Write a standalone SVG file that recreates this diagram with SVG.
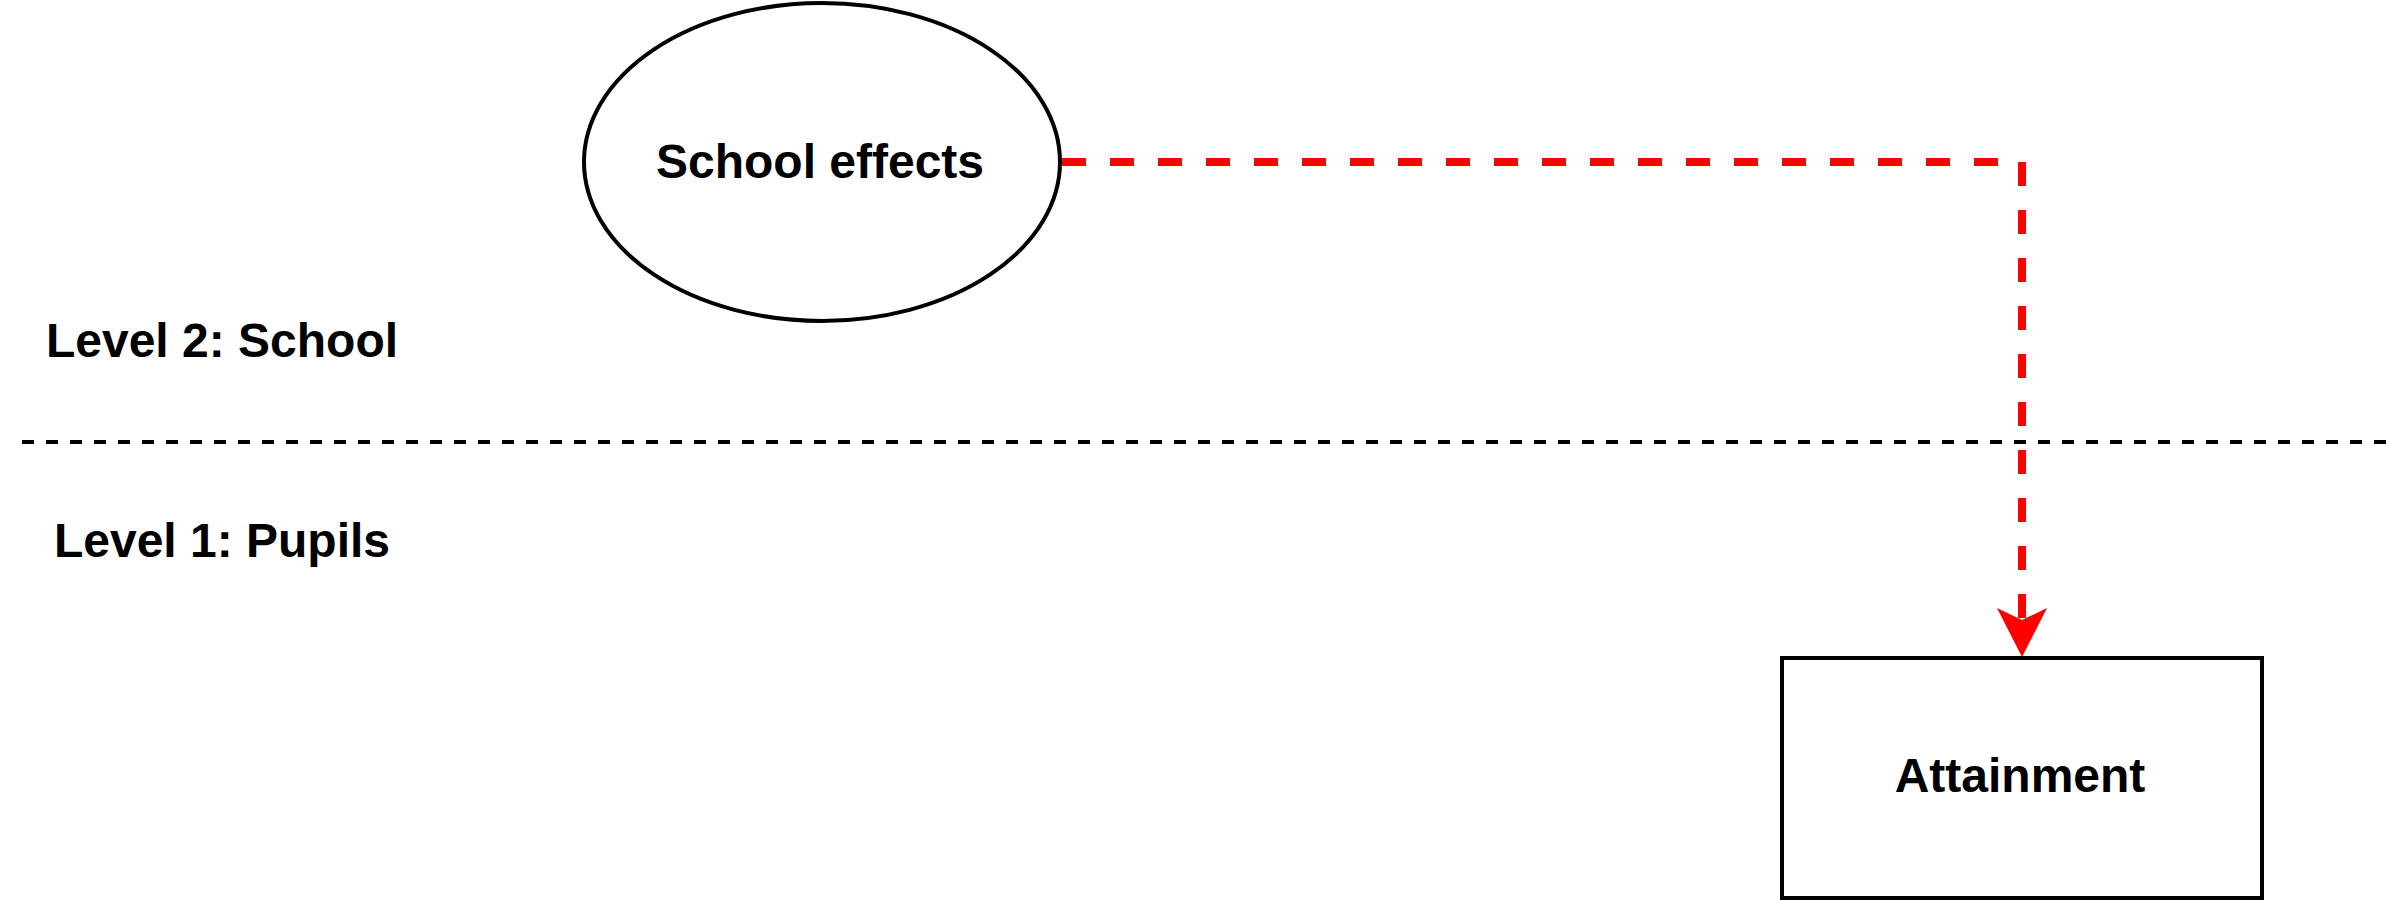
<svg xmlns="http://www.w3.org/2000/svg" width="2388" height="900" viewBox="0 0 2388 900">
  <style>
    .lbl { font-family: "Liberation Sans", Arial, sans-serif; font-weight: bold; font-size: 48px; fill: #000; text-anchor: middle; }
    .shape { fill: #fff; stroke: #000; stroke-width: 4; }
    .conn { fill: none; stroke: #ff0000; stroke-width: 8; stroke-dasharray: 24 24; }
    .head { fill: #ff0000; stroke: none; }
  </style>
  <rect width="2388" height="900" fill="#fff"/>

  <g id="divider">
    <line x1="22" y1="442" x2="2388" y2="442" stroke="#000" stroke-width="4" stroke-dasharray="12 12"/>
  </g>

  <g id="label-level2">
    <text class="lbl" x="222" y="357">Level 2: School</text>
  </g>
  <g id="label-level1">
    <text class="lbl" x="222" y="557">Level 1: Pupils</text>
  </g>

  <g id="connectors">
    <path class="conn" d="M1062,162 H2022 V618"/>
    <path class="head" d="M2022,657 L1997,608 L2022,620 L2047,608 Z"/>
  </g>

  <g id="school-effects">
    <ellipse class="shape" cx="822" cy="162" rx="238" ry="159"/>
    <text class="lbl" x="820" y="178">School effects</text>
  </g>

  <g id="attainment">
    <rect class="shape" x="1782" y="658" width="480" height="240"/>
    <text class="lbl" x="2020" y="792">Attainment</text>
  </g>
</svg>
